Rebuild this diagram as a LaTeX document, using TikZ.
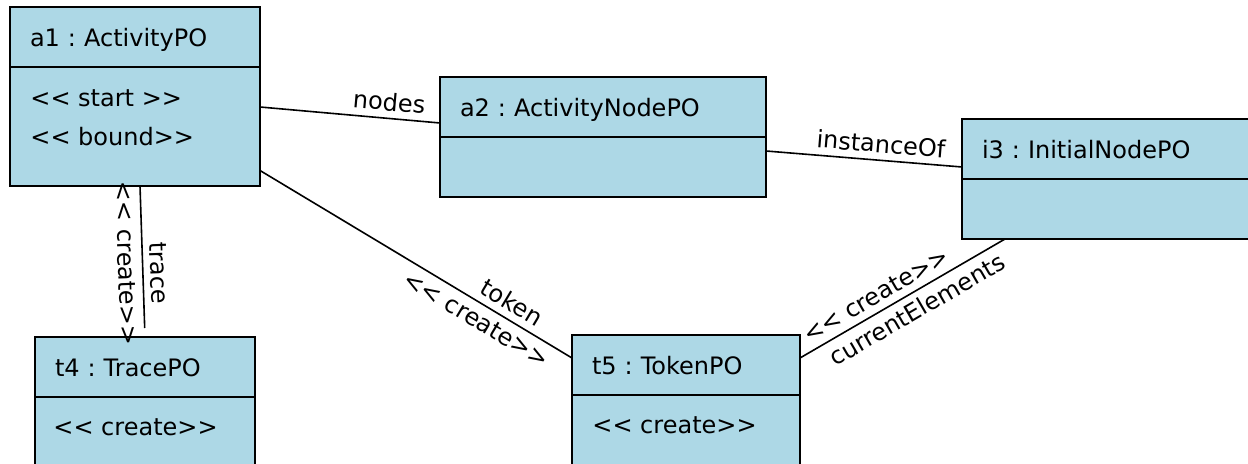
\documentclass[tikz,border=0pt]{standalone}
\usepackage{fontspec}
\setmainfont{DejaVu Sans}[Ligatures=TeXOff]
\frenchspacing
\usetikzlibrary{positioning}
\definecolor{objblue}{RGB}{173,216,230}
\begin{document}
\begin{tikzpicture}[x=0.5pt,y=-0.5pt,font=\fontsize{12}{18}\selectfont,
  head/.style={draw,line width=1pt,fill=objblue,anchor=north west,minimum height=30pt,inner xsep=10pt,inner ysep=0pt,outer sep=0pt,text height=10pt,text depth=0pt,align=left},
  body/.style={draw,line width=1pt,fill=objblue,inner sep=0pt,outer sep=0pt,minimum height=30pt},
  attr/.style={anchor=base west,inner sep=0pt},
  link/.style={line width=0.8pt}]
\useasboundingbox (0,0) rectangle (1248,464);
\clip (0,0) rectangle (1248,464);
% objects
\node[head,text width=105pt] (a1h) at (10,7) {a1 : ActivityPO};
\node[body,minimum width=125pt,minimum height=59.5pt,below=0pt of a1h] (a1b) {};
\node[head,text width=143pt] (a2h) at (440,77) {a2 : ActivityNodePO};
\node[body,minimum width=163pt,below=0pt of a2h] (a2b) {};
\node[head,text width=130pt] (i3h) at (962,119) {i3 : InitialNodePO};
\node[body,minimum width=150pt,below=0pt of i3h] (i3b) {};
\node[head,text width=90pt] (t4h) at (35,337) {t4 : TracePO};
\node[body,minimum width=110pt,minimum height=35pt,below=0pt of t4h] (t4b) {};
\node[head,text width=94pt] (t5h) at (572,335) {t5 : TokenPO};
\node[body,minimum width=114pt,minimum height=35pt,below=0pt of t5h] (t5b) {};
% attributes
\node[attr] (a1s) at (30,107) {<< start >>};
\node[attr] (a1d) at (30,146) {<< bound>>};
\node[attr] (t4c) at (53,436) {<< create>>};
\node[attr] (t5c) at (592,434) {<< create>>};
% links
\draw[link] ([yshift=9.75pt]a1b.east) edge node[pos=0.71,above,sloped] {nodes} ([yshift=-8pt]a2h.west);
\draw[link] ([yshift=8pt]a2b.east) edge node[pos=0.58,above,sloped] {instanceOf} ([yshift=-9pt]i3h.west);
\draw[link,shorten >=4.5pt] ([xshift=2.5pt]a1b.south) edge node[pos=0.58,above,sloped] {trace} node[pos=0.51,below,sloped] {<< create>>} (t4h.north);
\draw[link] ([yshift=-22pt]a1b.east) edge node[pos=0.78,above,sloped] {token} node[pos=0.72,below,sloped] {<< create>>} ([yshift=3.5pt]t5h.west);
\draw[link] ([yshift=3.5pt]t5h.east) edge node[pos=0.41,above,sloped] {<< create>>} node[pos=0.53,below,sloped] {currentElements} ([xshift=21.5pt]i3b.south west);
\end{tikzpicture}
\end{document}
